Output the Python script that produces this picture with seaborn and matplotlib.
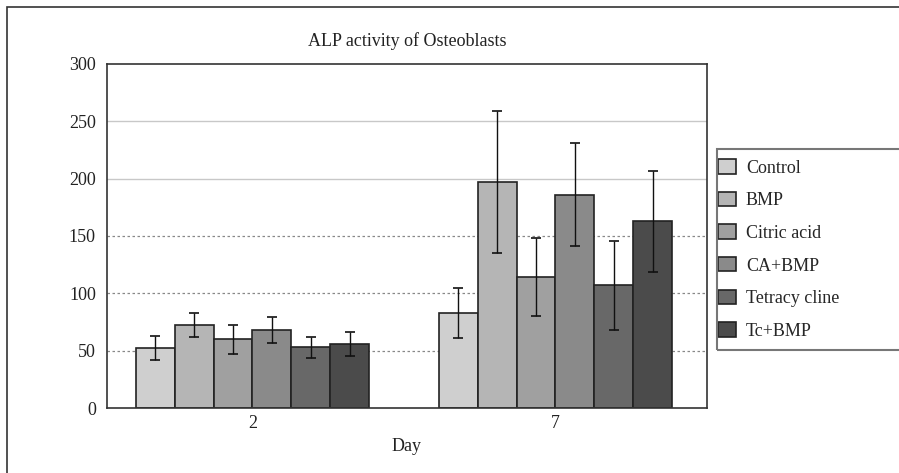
import pandas as pd
import numpy as np
import matplotlib.pyplot as plt
import seaborn as sns
from matplotlib.patches import Rectangle

# dados
dias = ['2', '7']
grupos = ['Control', 'BMP', 'Citric acid', 'CA+BMP', 'Tetracy cline', 'Tc+BMP']
media_dia2 = [52, 72, 60, 68, 53, 56]
media_dia7 = [83, 197, 114, 186, 107, 163]
erro_dia2 = [10.5, 10.5, 12.5, 11, 9, 10.5]
erro_dia7 = [22, 62, 34, 45, 39, 44]
cores = ['#cfcfcf', '#b5b5b5', '#a0a0a0', '#8a8a8a', '#686868', '#4b4b4b']

df = pd.DataFrame({
    'Day': np.repeat(dias, len(grupos)),
    'Grupo': grupos * 2,
    'Valor': media_dia2 + media_dia7,
    'Erro': erro_dia2 + erro_dia7,
})

sns.set_style('white')
plt.rcParams['font.family'] = ['Liberation Serif', 'DejaVu Serif']
fs = 13

fig = plt.figure(figsize=(8.99, 4.73), dpi=100)
ax = fig.add_axes([107/899, 65/473, 600/899, 344/473])

sns.barplot(data=df, x='Day', y='Valor', hue='Grupo', hue_order=grupos,
            palette=cores, width=0.77, errorbar=None, edgecolor='#222222',
            linewidth=1.2, ax=ax, zorder=2)

# barras de erro nas posicoes das barras desenhadas
for i, g in enumerate(grupos):
    cont = ax.containers[i]
    for j, barra in enumerate(cont):
        x = barra.get_x() + barra.get_width() / 2
        sub = df[(df['Grupo'] == g) & (df['Day'] == dias[j])]
        ax.errorbar(x, sub['Valor'].iloc[0], yerr=sub['Erro'].iloc[0],
                    color='#111111', capsize=3.5, linewidth=1, capthick=1.2,
                    zorder=3)

# linhas de grade
for v in [200, 250]:
    ax.axhline(v, color='#c8c8c8', linewidth=1, zorder=0)
for v in [50, 100, 150]:
    ax.axhline(v, color='#888888', linewidth=0.9, linestyle=(0, (2, 2)), zorder=0)

ax.set_ylim(0, 300)
ax.set_xlim(-0.48, 1.5)
ax.set_yticks([0, 50, 100, 150, 200, 250, 300])
ax.set_xticks([0.5], minor=True)
ax.tick_params(axis='both', which='major', length=0, labelsize=fs, colors='#222222', pad=8)
ax.tick_params(axis='x', which='minor', direction='in', length=4, color='#444444')
ax.tick_params(axis='x', which='major', pad=5)
for s in ax.spines.values():
    s.set_color('#333333')
    s.set_linewidth(1.2)

ax.set_title('ALP activity of Osteoblasts', fontsize=fs, pad=13, color='#222222')
ax.set_xlabel('Day', fontsize=fs, labelpad=4, color='#222222')
ax.set_ylabel('')

# legenda
handles, labels = ax.get_legend_handles_labels()
ax.legend(handles, labels, loc='upper left', bbox_to_anchor=(711/899, 1 - 152/473),
          bbox_transform=fig.transFigure, frameon=False, fontsize=fs,
          handlelength=1.0, handleheight=0.85, labelspacing=0.84, handletextpad=0.53,
          borderaxespad=0)

# moldura da legenda e da figura
fig.add_artist(Rectangle((717/899, 1 - 350/473), 200/899, 201/473,
                         transform=fig.transFigure, fill=False,
                         edgecolor='#777777', linewidth=1.5))
fig.add_artist(Rectangle((7/899, -0.1), 1.2, 1 - 7/473 + 0.1,
                         transform=fig.transFigure, fill=False,
                         edgecolor='#333333', linewidth=1.2))

fig.savefig('out.png', dpi=100)
